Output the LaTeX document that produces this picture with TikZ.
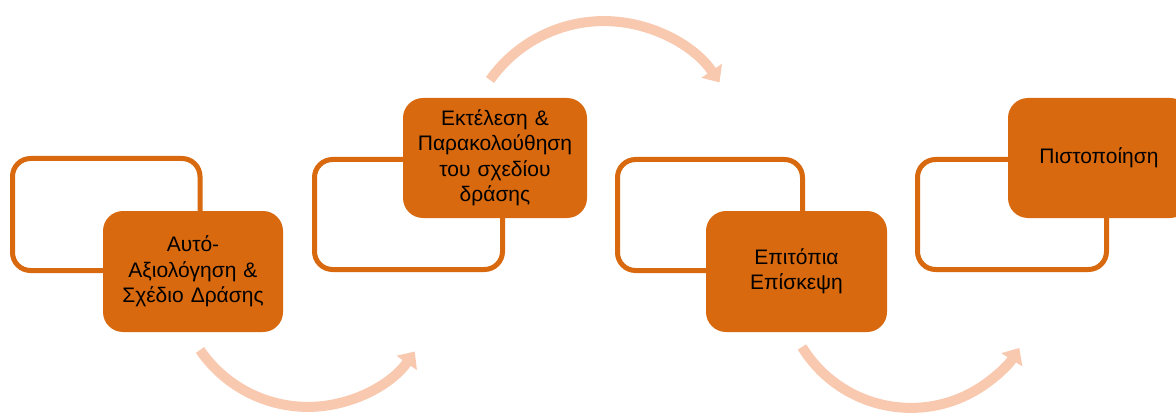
\documentclass[tikz,border=0pt]{standalone}
\usepackage{fontspec}
\setmainfont{Liberation Sans}
\usetikzlibrary{arrows.meta}
\definecolor{stepfill}{HTML}{D9690E}
\definecolor{flowarc}{HTML}{F8C8AF}
\tikzset{
  frame/.style={draw=stepfill, line width=5pt, rounded corners=18pt, fill=white},
  stepbox/.style={fill=stepfill, rounded corners=20pt, inner sep=4pt,
    text width=#1, align=center, font=\fontsize{21pt}{25.5pt}\selectfont},
  flow/.style={draw=flowarc, line width=10pt,
    -{Triangle[length=14pt,width=24pt]}}
}
\begin{document}
\begin{tikzpicture}[x=1pt,y=1pt]
\useasboundingbox (0,0) rectangle (1176,-417);
\clip (0,0) rectangle (1176,-417);

% outline frames behind each step
\draw[frame] (12.5,-158.5) rectangle (200,-270.5);
\draw[frame] (314.5,-159.5) rectangle (502.5,-269.5);
\draw[frame] (617.5,-159.5) rectangle (802.5,-270.5);
\draw[frame] (917.5,-159.5) rectangle (1106.5,-269.5);

% filled steps
\node[stepbox=172pt, minimum width=180pt, minimum height=121pt] (s1) at (193,-271.5)
  {Αυτό-\\Αξιολόγηση \&\\Σχέδιο Δράσης};
\node[stepbox=176pt, minimum width=184pt, minimum height=120pt] (s2) at (495,-158)
  {Εκτέλεση \&\\Παρακολούθηση\\του σχεδίου\\δράσης};
\node[stepbox=173pt, minimum width=181pt, minimum height=121pt] (s3) at (796.5,-271.5)
  {Επιτόπια\\Επίσκεψη};
\node[stepbox=174pt, minimum width=182pt, minimum height=120pt] (s4) at (1099,-158)
  {Πιστοποίηση};

% curved arrows between steps
\coordinate (a1) at (200,-350);
\coordinate (a2) at (490,-80);
\coordinate (a3) at (802,-347);
\draw[flow] (a1) arc[start angle=214.4, end angle=324.8, radius=130.8];
\draw[flow] (a2) arc[start angle=144.7, end angle=34.1, radius=139.6];
\draw[flow] (a3) arc[start angle=211.6, end angle=327.9, radius=127.9];
\end{tikzpicture}
\end{document}
